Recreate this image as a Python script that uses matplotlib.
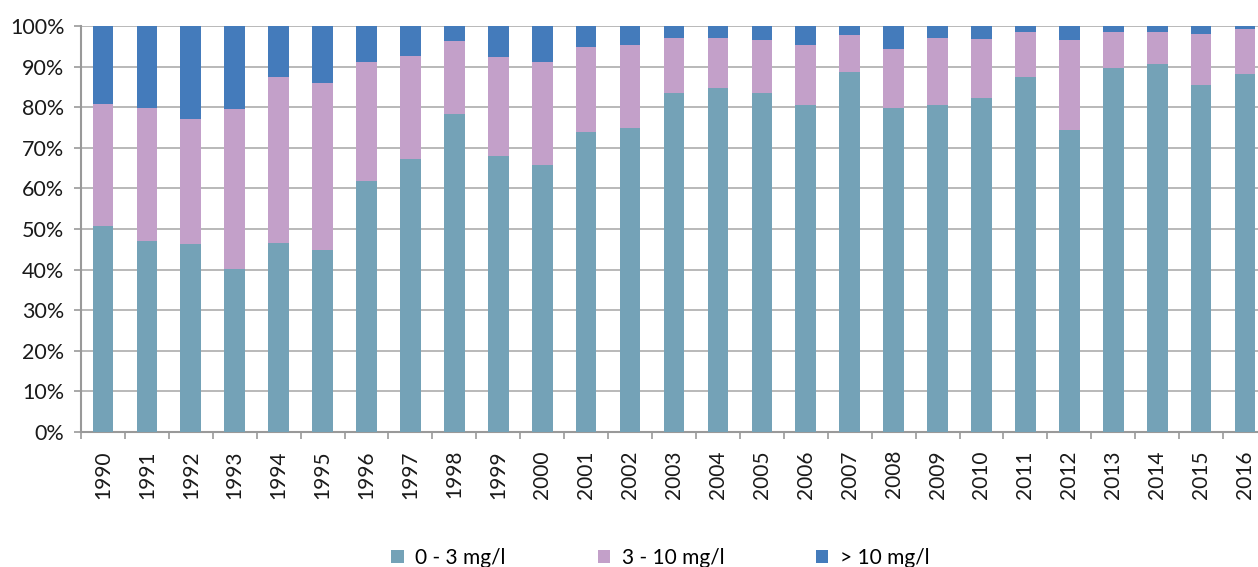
import matplotlib
matplotlib.use("Agg")
import matplotlib.pyplot as plt
import numpy as np

plt.rcParams['font.family'] = ['Lato', 'DejaVu Sans']

years = [str(y) for y in range(1990, 2017)]

# Share of measurements per concentration class (%)
low = [50.7, 47.1, 46.3, 40.2, 46.5, 44.9, 61.9, 67.2, 78.4, 68.1,
       65.7, 73.8, 74.8, 83.4, 84.8, 83.4, 80.6, 88.6, 79.9, 80.5,
       82.2, 87.4, 74.5, 89.7, 90.6, 85.4, 88.1]
mid = [30.1, 32.6, 30.7, 39.3, 40.9, 41.0, 29.2, 25.5, 17.8, 24.2,
       25.4, 21.0, 20.4, 13.6, 12.2, 13.2, 14.8, 9.1, 14.4, 16.5,
       14.5, 11.2, 22.1, 8.9, 7.8, 12.7, 11.1]
high = [19.2, 20.3, 23.0, 20.5, 12.6, 14.1, 8.9, 7.3, 3.8, 7.7,
        8.9, 5.2, 4.8, 3.0, 3.0, 3.4, 4.6, 2.3, 5.7, 3.0,
        3.3, 1.4, 3.4, 1.4, 1.6, 1.9, 0.8]

labels = ['0 - 3 mg/l', '3 - 10 mg/l', '> 10 mg/l']
colors = ['#74A2B7', '#C3A0C9', '#447BBB']

fig = plt.figure(figsize=(12.58, 5.67), dpi=100)
ax = fig.add_axes([81 / 1258, 135 / 567, 1186 / 1258, 406 / 567])

x = np.arange(len(years))
w = 0.47
low_a = np.array(low)
mid_a = np.array(mid)
high_a = np.array(high)
ax.bar(x, low_a, w, color=colors[0], label=labels[0], zorder=3)
ax.bar(x, mid_a, w, bottom=low_a, color=colors[1], label=labels[1], zorder=3)
ax.bar(x, high_a, w, bottom=low_a + mid_a, color=colors[2], label=labels[2], zorder=3)

ax.set_xlim(-0.5, len(years) - 0.5)
ax.set_ylim(0, 100)

# y axis: percentage ticks with gridlines
ax.set_yticks(np.arange(0, 101, 10))
ax.set_yticklabels([f'{v}%' for v in range(0, 101, 10)], fontsize=15.5, color='#1a1a1a')
ax.yaxis.grid(True, color='#A6A6A6', linewidth=1.1, zorder=0)
ax.tick_params(axis='y', length=5, width=1.2, color='#999999', pad=7)

# x axis: tick marks between categories, labels at centres
ax.set_xticks(np.arange(-0.5, len(years), 1.0))
ax.set_xticklabels([])
ax.tick_params(axis='x', which='major', length=5, width=1.2, color='#999999')
ax.set_xticks(x, minor=True)
ax.set_xticklabels(years, minor=True, rotation=90, fontsize=15, color='#1a1a1a')
ax.tick_params(axis='x', which='minor', length=0, pad=13)

for s in ['top', 'right']:
    ax.spines[s].set_visible(False)
for s in ['left', 'bottom']:
    ax.spines[s].set_color('#999999')
    ax.spines[s].set_linewidth(1.5)
ax.set_axisbelow(True)

fig.legend(loc='lower center', bbox_to_anchor=(0.525, -0.035), ncol=3, frameon=False,
           fontsize=15, handlelength=0.6, handleheight=0.6, handletextpad=0.55,
           columnspacing=4.4)

fig.savefig('out.png', dpi=100)
